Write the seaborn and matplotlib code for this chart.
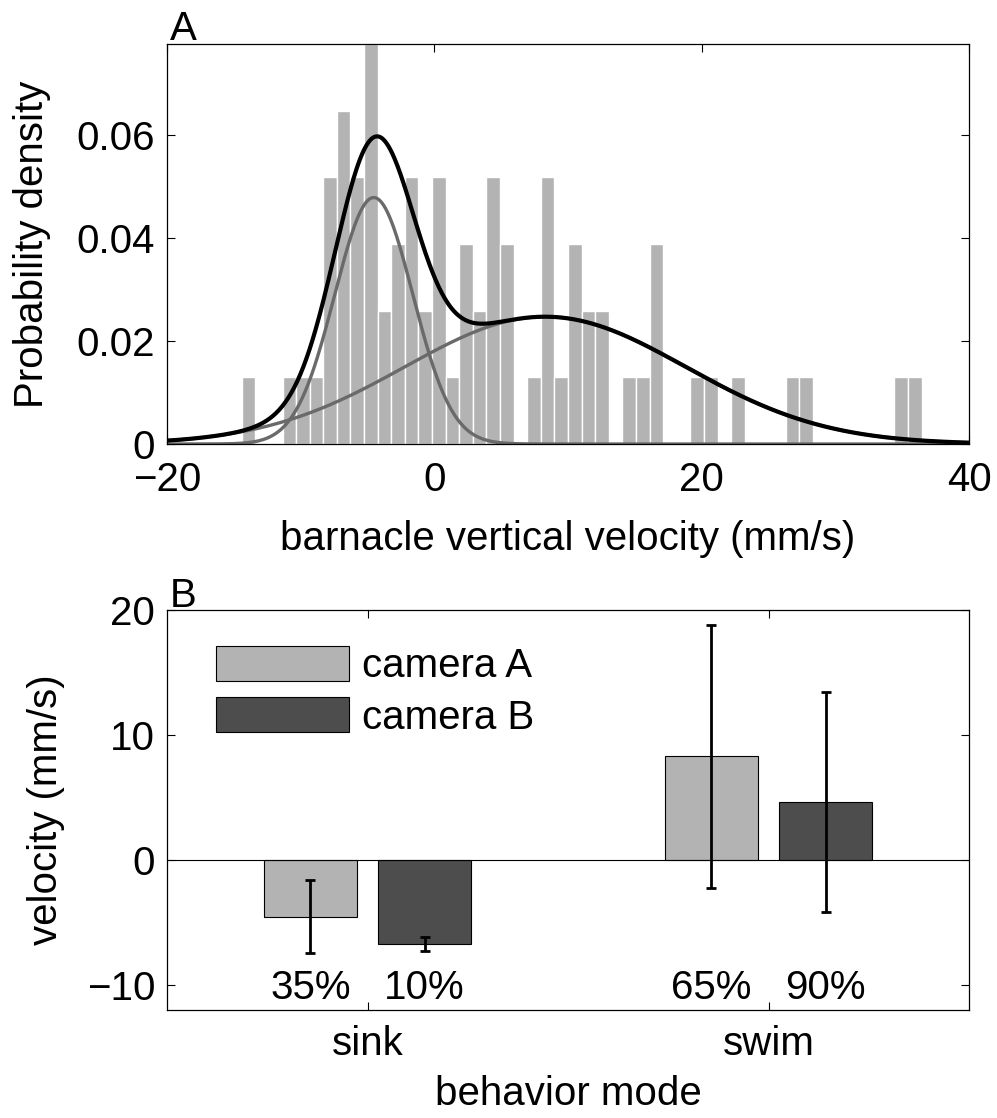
import numpy as np
import pandas as pd
import matplotlib
matplotlib.use("Agg")
import matplotlib.pyplot as plt
import seaborn as sns

# ---- Panel A: vertical velocity histogram (50 equal-width bins over the data range)
bin_lo, bin_hi, n_bins = -14.41, 36.45, 50
bin_counts = [1, 0, 0, 1, 1, 1, 4, 5, 4, 6,
              2, 3, 4, 2, 4, 1, 3, 2, 4, 3,
              0, 1, 4, 1, 3, 2, 2, 0, 1, 1,
              3, 0, 0, 1, 1, 0, 1, 0, 0, 0,
              1, 1, 0, 0, 0, 0, 0, 0, 1, 1]

# ---- Panel B: mean velocity and SD per behaviour mode and camera
modes = ["sink", "swim"]
cameras = ["camera A", "camera B"]
mean_cam_a = [-4.53, 8.30]
sd_cam_a = [2.92, 10.50]
mean_cam_b = [-6.72, 4.64]
sd_cam_b = [0.55, 8.78]
pct_cam_a = [35, 65]
pct_cam_b = [10, 90]

FS = 29
sns.set_style("ticks")
plt.rcParams["font.family"] = ["Liberation Sans", "DejaVu Sans"]
plt.rcParams["font.size"] = FS
plt.rcParams["axes.linewidth"] = 0.9
plt.rcParams["axes.edgecolor"] = "black"
plt.rcParams["text.color"] = "black"
plt.rcParams["axes.labelcolor"] = "black"
plt.rcParams["xtick.color"] = "black"
plt.rcParams["ytick.color"] = "black"

fig = plt.figure(figsize=(9.97, 11.18), dpi=100)
W, H = 997, 1118
axA = fig.add_axes([167 / W, 1 - 444 / H, 802 / W, 400 / H])
axB = fig.add_axes([167 / W, 1 - 1010 / H, 802 / W, 400 / H])

# ---------------- Panel A ----------------
edges = np.linspace(bin_lo, bin_hi, n_bins + 1)
centers = 0.5 * (edges[:-1] + edges[1:])
counts = np.asarray(bin_counts, dtype=float)
hist_df = pd.DataFrame({"velocity": centers, "n": counts})
sns.histplot(data=hist_df, x="velocity", weights="n", bins=list(edges),
             stat="density", color="#b3b3b3", alpha=1, edgecolor="white",
             linewidth=1.0, ax=axA)

# two-component Gaussian mixture fit (weights = share of each mode, camera A)
xs = np.linspace(-20, 40, 801)
weights = np.asarray(pct_cam_a) / 100.0
comps = [w / (s * np.sqrt(2 * np.pi)) * np.exp(-0.5 * ((xs - m) / s) ** 2)
         for w, m, s in zip(weights, mean_cam_a, sd_cam_a)]
for c in comps:
    sns.lineplot(x=xs, y=c, color="#6a6a6a", linewidth=2.4, ax=axA)
sns.lineplot(x=xs, y=comps[0] + comps[1], color="black", linewidth=3.0, ax=axA)

width = edges[1] - edges[0]
axA.set_xlim(-20, 40)
axA.set_ylim(0, counts.max() / (counts.sum() * width))
axA.set_xticks([-20, 0, 20, 40])
axA.set_yticks([0, 0.02, 0.04, 0.06])
axA.set_yticklabels(["0", "0.02", "0.04", "0.06"])
axA.set_xlabel("barnacle vertical velocity (mm/s)", fontsize=FS)
axA.set_ylabel("Probability density", fontsize=FS)
axA.xaxis.set_label_coords(0.5, -0.19)
axA.yaxis.set_label_coords(-0.145, 0.5)
axA.tick_params(axis="x", pad=12.5)
axA.tick_params(axis="y", pad=8.6)
axA.text(0.004, 1.01, "A", transform=axA.transAxes, ha="left",
         va="baseline", fontsize=FS)

# ---------------- Panel B ----------------
df = pd.DataFrame({
    "mode": modes * 2,
    "camera": [cameras[0]] * len(modes) + [cameras[1]] * len(modes),
    "velocity": mean_cam_a + mean_cam_b,
})
sns.barplot(data=df, x="mode", y="velocity", hue="camera", order=modes,
            hue_order=cameras, palette=["#b3b3b3", "#4d4d4d"],
            saturation=1, width=0.57, gap=0.18, edgecolor="black",
            linewidth=0.8, errorbar=None, legend=False, ax=axB)
axB.axhline(0, color="black", linewidth=0.8, zorder=1.5)

means = [mean_cam_a, mean_cam_b]
sds = [sd_cam_a, sd_cam_b]
pcts = [pct_cam_a, pct_cam_b]
for cont, mu, sd, pc in zip(axB.containers, means, sds, pcts):
    xc = [p.get_x() + p.get_width() / 2 for p in cont.patches]
    axB.errorbar(xc, mu, yerr=sd, fmt="none", ecolor="black",
                 elinewidth=2.0, capsize=3.5, capthick=2.0, zorder=3)
    for x, p in zip(xc, pc):
        axB.text(x, -10.24, f"{p}%", ha="center", va="center", fontsize=FS)

axB.set_xlim(-0.5, 1.5)
axB.set_ylim(-12, 20)
axB.set_yticks([-10, 0, 10, 20])
axB.set_xlabel("behavior mode", fontsize=FS)
axB.set_ylabel("velocity (mm/s)", fontsize=FS)
axB.xaxis.set_label_coords(0.5, -0.163)
axB.yaxis.set_label_coords(-0.127, 0.5)
axB.tick_params(axis="x", pad=10.5)
axB.tick_params(axis="y", pad=8.6)
axB.text(0.004, 1.008, "B", transform=axB.transAxes, ha="left",
         va="baseline", fontsize=FS)
axB.legend(axB.containers, cameras, loc="upper left",
           bbox_to_anchor=(49 / 802, 1 - 36 / 400), frameon=False,
           handlelength=3.3, handleheight=0.95, handletextpad=0.32,
           labelspacing=0.3, borderpad=0, borderaxespad=0, fontsize=FS)

for ax in (axA, axB):
    ax.tick_params(direction="in", length=5.5, width=0.8, top=True,
                   right=True, labelsize=FS, colors="black")
    for s in ax.spines.values():
        s.set_visible(True)
        s.set_linewidth(0.9)
        s.set_color("black")

fig.savefig("out.png", dpi=100)
